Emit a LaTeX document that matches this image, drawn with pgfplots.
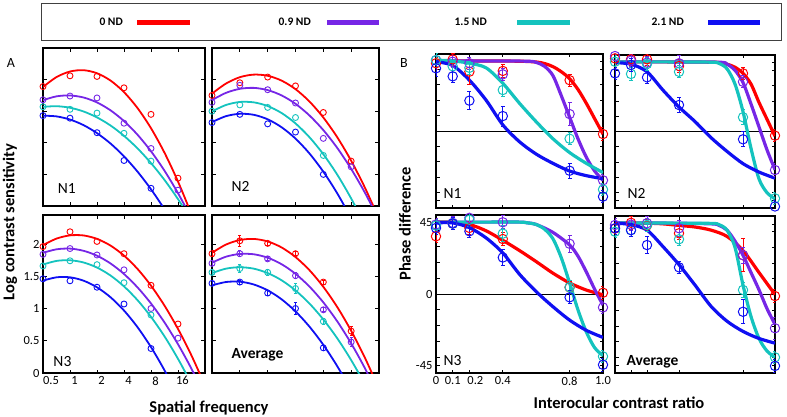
\documentclass[border=0pt]{standalone}
\usepackage{pgfplots}
\pgfplotsset{compat=1.18}
\usepackage{fontspec}
\setmainfont{Carlito}
\definecolor{cR}{RGB}{255,0,0}
\definecolor{cP}{RGB}{118,38,230}
\definecolor{cC}{RGB}{20,195,190}
\definecolor{cB}{RGB}{15,15,242}
\tikzset{plab/.style={anchor=base west, font=\fontsize{15.5}{18}\selectfont}}
\pgfplotsset{
  common/.style={scale only axis, anchor=south west,
    axis line style={line width=1.1pt}, tick style={black,line width=0.7pt},
    major tick length=3.5pt, minor tick length=3.5pt,
    xticklabels={}, yticklabels={},
    ticklabel style={font=\fontsize{12.5}{14}\selectfont},
    /pgf/number format/assume math mode=true},
  Abase/.style={common, xmin=-1, xmax=5, ymin=0,
    xtick={-1,0,1,2,3,4}, ytick={0,0.5,1,1.5,2}},
  Bbase/.style={common, xmin=0, xmax=1, ymin=-50, ymax=50,
    xtick={0,0.1,0.2,0.4,0.8,1}, ytick={-45,0,45},
    minor ytick={-40,-30,-20,-10,10,20,30,40}},
  Acurve/.style={line width=1.8pt, smooth, no markers},
  Apts/.style={only marks, mark=o, mark size=3pt, mark options={line width=0.9pt},
    error bars/y dir=both, error bars/y explicit,
    error bars/error bar style={line width=0.9pt},
    error bars/error mark options={rotate=90, mark size=1.6pt, line width=0.9pt}},
  Bcurve/.style={line width=3.2pt, smooth, no markers},
  Bpts/.style={only marks, mark=o, mark size=4.7pt, mark options={line width=1pt},
    error bars/y dir=both, error bars/y explicit,
    error bars/error bar style={line width=1pt},
    error bars/error mark options={rotate=90, mark size=2pt, line width=1pt}},
  zero/.style={black, line width=0.9pt, no markers},
}
\begin{document}
\begin{tikzpicture}
\path[use as bounding box] (0,0) rectangle (787pt,-417pt);
% legend box
\draw[line width=0.9pt, black!75] (41pt,-3pt) rectangle (781pt,-40pt);
\begin{scope}[every node/.style={anchor=east, font=\bfseries\fontsize{11.5}{13}\selectfont, inner sep=0pt}]
\node at (123pt,-22pt) {0 ND};
\node at (311pt,-22pt) {0.9 ND};
\node at (487pt,-22pt) {1.5 ND};
\node at (684pt,-22pt) {2.1 ND};
\end{scope}
\draw[cR, line width=4.7pt] (137pt,-22.5pt) -- (190pt,-22.5pt);
\draw[cP, line width=4.7pt] (327pt,-22.5pt) -- (379pt,-22.5pt);
\draw[cC, line width=4.7pt] (517pt,-22.5pt) -- (570pt,-22.5pt);
\draw[cB, line width=4.7pt] (708pt,-22.5pt) -- (760pt,-22.5pt);

\node[font=\fontsize{14}{16}\selectfont] at (11pt,-63pt) {A};
\node[font=\fontsize{14}{16}\selectfont] at (404pt,-63pt) {B};
\node[rotate=90, font=\bfseries\fontsize{16.5}{19}\selectfont] at (10pt,-222pt) {Log contrast sensitivity};
\node[font=\bfseries\fontsize{16.5}{19}\selectfont] at (209pt,-408pt) {Spatial frequency};
\node[rotate=90, font=\bfseries\fontsize{16.5}{19}\selectfont] at (405pt,-224pt) {Phase difference};
\node[font=\bfseries\fontsize{16.5}{19}\selectfont] at (619pt,-403pt) {Interocular contrast ratio};

% ---------------- A N1
\begin{axis}[Abase, at={(43pt,-206pt)}, width=162pt, height=158pt, ymax=2.5]
\addplot[cR, Acurve] coordinates {(-1,1.883)(-0.5,2.040)(0,2.128)(0.5,2.149)(1,2.101)(1.5,1.985)(2,1.802)(2.5,1.550)(3,1.231)(3.5,0.843)(4,0.387)(4.5,-0.136)(5,-0.728)};
\addplot[cP, Acurve] coordinates {(-1,1.675)(-0.5,1.735)(0,1.749)(0.5,1.717)(1,1.639)(1.5,1.514)(2,1.344)(2.5,1.128)(3,0.866)(3.5,0.558)(4,0.203)(4.5,-0.197)(5,-0.643)};
\addplot[cC, Acurve] coordinates {(-1,1.569)(-0.5,1.579)(0,1.555)(0.5,1.496)(1,1.402)(1.5,1.274)(2,1.110)(2.5,0.912)(3,0.679)(3.5,0.412)(4,0.109)(4.5,-0.228)(5,-0.6)};
\addplot[cB, Acurve] coordinates {(-1,1.429)(-0.5,1.418)(0,1.368)(0.5,1.280)(1,1.153)(1.5,0.989)(2,0.786)(2.5,0.544)(3,0.265)(3.5,-0.053)(4,-0.409)(4.5,-0.804)};
\addplot[cR, Apts] coordinates {(-1,1.89)(0,2.06)(1,2.05)(2,1.87)(3,1.45)(4,0.44)};
\addplot[cP, Apts] coordinates {(-1,1.68)(0,1.74)(1,1.71)(2,1.31)(3,0.91)(4,0.25)};
\addplot[cC, Apts] coordinates {(-1,1.57)(0,1.53)(1,1.47)(2,1.15)(3,0.71)};
\addplot[cB, Apts] coordinates {(-1,1.43)(0,1.39)(1,1.16)(2,0.72)(3,0.28)};
\node[plab] at (axis description cs:0.07,0.08) {N1};
\end{axis}

% ---------------- A N2
\begin{axis}[Abase, at={(212pt,-206pt)}, width=167pt, height=158pt, ymax=2.5]
\addplot[cR, Acurve] coordinates {(-1,1.778)(-0.5,1.937)(0,2.038)(0.5,2.079)(1,2.061)(1.5,1.984)(2,1.849)(2.5,1.654)(3,1.400)(3.5,1.088)(4,0.716)(4.5,0.285)(5,-0.204)};
\addplot[cP, Acurve] coordinates {(-1,1.676)(-0.5,1.790)(0,1.854)(0.5,1.869)(1,1.834)(1.5,1.750)(2,1.617)(2.5,1.433)(3,1.201)(3.5,0.919)(4,0.587)(4.5,0.206)(5,-0.225)};
\addplot[cC, Acurve] coordinates {(-1,1.497)(-0.5,1.598)(0,1.646)(0.5,1.640)(1,1.582)(1.5,1.471)(2,1.307)(2.5,1.089)(3,0.819)(3.5,0.496)(4,0.119)(4.5,-0.310)(5,-0.792)};
\addplot[cB, Acurve] coordinates {(-1,1.328)(-0.5,1.421)(0,1.459)(0.5,1.443)(1,1.372)(1.5,1.246)(2,1.067)(2.5,0.832)(3,0.543)(3.5,0.200)(4,-0.198)(4.5,-0.65)};
\addplot[cR, Apts] coordinates {(-1,1.75)(0,1.95)(1,2.04)(2,1.90)(3,1.48)(4,0.71)};
\addplot[cP, Apts] coordinates {(-1,1.64)(0,1.91)(1,1.84)(2,1.63)(3,1.07)(4,0.62)};
\addplot[cC, Apts] coordinates {(-1,1.50)(0,1.60)(1,1.56)(2,1.40)(3,0.80)};
\addplot[cB, Apts] coordinates {(-1,1.32)(0,1.45)(1,1.30)(2,1.17)(3,0.50)};
\node[plab] at (axis description cs:0.096,0.09) {N2};
\end{axis}

% ---------------- A N3
\begin{axis}[Abase, at={(43pt,-373pt)}, width=162pt, height=158pt, ymax=2.45,
  xticklabels={\hspace*{16pt}0.5,\hspace*{9pt}1,\hspace*{9pt}2,\hspace*{9pt}4,\hspace*{9pt}8,\hspace*{9pt}16},
  yticklabels={0,0.5,1,1.5,2}]
\addplot[cR, Acurve] coordinates {(-1,1.982)(-0.5,2.084)(0,2.134)(0.5,2.133)(1,2.080)(1.5,1.976)(2,1.821)(2.5,1.614)(3,1.355)(3.5,1.045)(4,0.684)(4.5,0.271)(5,-0.194)};
\addplot[cP, Acurve] coordinates {(-1,1.864)(-0.5,1.918)(0,1.929)(0.5,1.895)(1,1.819)(1.5,1.699)(2,1.535)(2.5,1.328)(3,1.078)(3.5,0.784)(4,0.446)(4.5,0.065)(5,-0.36)};
\addplot[cC, Acurve] coordinates {(-1,1.682)(-0.5,1.738)(0,1.748)(0.5,1.714)(1,1.635)(1.5,1.512)(2,1.343)(2.5,1.130)(3,0.871)(3.5,0.568)(4,0.220)(4.5,-0.173)(5,-0.611)};
\addplot[cB, Acurve] coordinates {(-1,1.432)(-0.5,1.484)(0,1.484)(0.5,1.432)(1,1.329)(1.5,1.175)(2,0.969)(2.5,0.711)(3,0.402)(3.5,0.042)(4,-0.37)(4.5,-0.834)};
\addplot[cR, Apts] coordinates {(-1,1.96)(0,2.19)(1,2.04)(2,1.85)(3,1.36)(4,0.76)};
\addplot[cP, Apts] coordinates {(-1,1.84)(0,1.93)(1,1.83)(2,1.60)(3,1.00)(4,0.54)};
\addplot[cC, Apts] coordinates {(-1,1.66)(0,1.74)(1,1.68)(2,1.40)(3,0.90)};
\addplot[cB, Apts] coordinates {(-1,1.46)(0,1.43)(1,1.33)(2,1.07)(3,0.38)};
\node[plab] at (axis description cs:0.043,0.04) {N3};
\end{axis}

% ---------------- A Average
\begin{axis}[Abase, at={(212pt,-373pt)}, width=167pt, height=158pt, ymax=2.45]
\addplot[cR, Acurve] coordinates {(-1,1.864)(-0.5,1.991)(0,2.062)(0.5,2.079)(1,2.040)(1.5,1.947)(2,1.798)(2.5,1.595)(3,1.336)(3.5,1.023)(4,0.654)(4.5,0.231)(5,-0.248)};
\addplot[cP, Acurve] coordinates {(-1,1.711)(-0.5,1.803)(0,1.846)(0.5,1.841)(1,1.788)(1.5,1.687)(2,1.538)(2.5,1.341)(3,1.095)(3.5,0.801)(4,0.459)(4.5,0.069)(5,-0.369)};
\addplot[cC, Acurve] coordinates {(-1,1.55)(-0.5,1.618)(0,1.64)(0.5,1.618)(1,1.55)(1.5,1.438)(2,1.28)(2.5,1.078)(3,0.83)(3.5,0.538)(4,0.2)(4.5,-0.183)(5,-0.61)};
\addplot[cB, Acurve] coordinates {(-1,1.359)(-0.5,1.411)(0,1.416)(0.5,1.373)(1,1.282)(1.5,1.143)(2,0.955)(2.5,0.720)(3,0.437)(3.5,0.106)(4,-0.273)(4.5,-0.701)};
\addplot[cR, Apts] coordinates {(-1,1.85) +- (0,0.05) (0,2.05) +- (0,0.08) (1,2.01) +- (0,0.03) (2,1.85) +- (0,0.03) (3,1.41) +- (0,0.03) (4,0.65) +- (0,0.07)};
\addplot[cP, Apts] coordinates {(-1,1.70) +- (0,0.03) (0,1.85) +- (0,0.05) (1,1.77) +- (0,0.03) (2,1.51) +- (0,0.05) (3,0.98) +- (0,0.03) (4,0.48) +- (0,0.07)};
\addplot[cC, Apts] coordinates {(-1,1.56) +- (0,0.03) (0,1.62) +- (0,0.06) (1,1.56) +- (0,0.05) (2,1.31) +- (0,0.08) (3,0.80) +- (0,0.04)};
\addplot[cB, Apts] coordinates {(-1,1.39) +- (0,0.03) (0,1.41) +- (0,0.03) (1,1.24) +- (0,0.04) (2,1.00) +- (0,0.09) (3,0.39) +- (0,0.04)};
\node[plab, font=\bfseries\fontsize{15.5}{18}\selectfont] at (axis description cs:0.096,0.093) {Average};
\end{axis}

% ---------------- B N1
\begin{axis}[Bbase, at={(436pt,-208pt)}, width=167pt, height=154pt]
\addplot[zero] coordinates {(0,0)(1,0)};
\addplot[cR, Bcurve] coordinates {(0,45.5)(0.3,45.5)(0.5,45.3)(0.6,44.8)(0.65,43.8)(0.7,41.8)(0.75,38.5)(0.8,34)(0.85,27)(0.9,18)(0.95,8)(1.0,-2)};
\addplot[cP, Bcurve] coordinates {(0,45.5)(0.3,45.5)(0.55,45.3)(0.6,44.5)(0.65,42)(0.7,36)(0.75,23)(0.8,9)(0.85,-5)(0.9,-17)(0.95,-26)(1.0,-32)};
\addplot[cC, Bcurve] coordinates {(0,46)(0.1,45.5)(0.2,44)(0.3,41)(0.4,31)(0.5,18)(0.6,6)(0.7,-5)(0.8,-14)(0.9,-21)(1.0,-27)};
\addplot[cB, Bcurve] coordinates {(0,45)(0.1,42.5)(0.2,33)(0.3,20)(0.4,4)(0.5,-7)(0.6,-15)(0.7,-21)(0.8,-26)(0.9,-29)(1.0,-31)};
\addplot[cR, Bpts] coordinates {(0,44) +- (0,4) (0.1,46.5) +- (0,4) (0.2,38.5) +- (0,8) (0.4,39) +- (0,4) (0.8,33) +- (0,4) (1.0,-2) +- (0,4)};
\addplot[cP, Bpts] coordinates {(0,46) +- (0,4) (0.1,45) +- (0,4) (0.2,44) +- (0,4) (0.4,36.8) +- (0,4) (0.8,11) +- (0,7.5) (1.0,-32) +- (0,4)};
\addplot[cC, Bpts] coordinates {(0,46) +- (0,4) (0.1,42) +- (0,4) (0.2,41) +- (0,4) (0.4,26.6) +- (0,4) (0.8,-5) +- (0,4) (1.0,-38) +- (0,4)};
\addplot[cB, Bpts] coordinates {(0,40.7) +- (0,5) (0.1,35.5) +- (0,4) (0.2,19.7) +- (0,6) (0.4,9.7) +- (0,6.5) (0.8,-25.8) +- (0,5) (1.0,-42.6) +- (0,4)};
\node[plab] at (axis description cs:0.024,0.063) {N1};
\end{axis}

% ---------------- B N2
\begin{axis}[Bbase, at={(615pt,-208pt)}, width=160pt, height=153pt]
\addplot[zero] coordinates {(0,0)(1,0)};
\addplot[cR, Bcurve] coordinates {(0,45.5)(0.3,45.5)(0.6,45.3)(0.65,45)(0.7,44)(0.75,42)(0.8,38)(0.85,31)(0.9,19)(0.95,8)(1.0,-3)};
\addplot[cP, Bcurve] coordinates {(0,45.5)(0.3,45.5)(0.65,45.3)(0.7,44)(0.75,40)(0.8,32)(0.85,18)(0.9,3)(0.95,-12)(1.0,-25)};
\addplot[cC, Bcurve] coordinates {(0,45.5)(0.3,45.5)(0.6,45.3)(0.65,44.5)(0.7,41)(0.75,31)(0.8,13)(0.85,-11)(0.9,-31)(0.95,-40)(1.0,-44)};
\addplot[cB, Bcurve] coordinates {(0,45)(0.1,44)(0.2,39)(0.3,27)(0.4,16)(0.5,6.5)(0.6,-4)(0.7,-13)(0.8,-21)(0.9,-26.5)(1.0,-30.5)};
\addplot[cR, Bpts] coordinates {(0,47.8) +- (0,4) (0.1,47.2) +- (0,4) (0.2,47.2) +- (0,4) (0.4,42.8) +- (0,4) (0.8,38) +- (0,4) (1.0,-2.7) +- (0,4)};
\addplot[cP, Bpts] coordinates {(0,49.3) +- (0,4) (0.1,46.3) +- (0,4) (0.2,45) +- (0,4) (0.4,44.6) +- (0,5) (0.8,32.5) +- (0,4) (1.0,-25.2) +- (0,4)};
\addplot[cC, Bpts] coordinates {(0,45.6) +- (0,4) (0.1,37.6) +- (0,4) (0.2,44.1) +- (0,4) (0.4,39) +- (0,4) (0.8,9.3) +- (0,5) (1.0,-43.7) +- (0,4)};
\addplot[cB, Bpts] coordinates {(0,38) +- (0,4) (0.1,43.5) +- (0,4) (0.2,35.4) +- (0,4) (0.4,17.3) +- (0,5) (0.8,-5.1) +- (0,5) (1.0,-49) +- (0,4)};
\node[plab] at (axis description cs:0.056,0.063) {N2};
\end{axis}

% ---------------- B N3
\begin{axis}[Bbase, at={(436pt,-373pt)}, width=167pt, height=158pt,
  xticklabels={0,0.1,\hspace*{12pt}0.2,0.4,0.8,1.0}, yticklabels={-45,0,45}]
\addplot[zero] coordinates {(0,0)(1,0)};
\addplot[cR, Bcurve] coordinates {(0,45.5)(0.1,45.5)(0.2,44)(0.3,40)(0.4,34)(0.5,27.5)(0.6,20.5)(0.7,13.2)(0.8,7)(0.9,2.5)(1.0,-0.5)};
\addplot[cP, Bcurve] coordinates {(0,45.5)(0.3,45.5)(0.5,45.5)(0.55,45)(0.6,44)(0.7,39)(0.8,31)(0.85,24)(0.9,14)(0.95,3)(1.0,-7)};
\addplot[cC, Bcurve] coordinates {(0,45.5)(0.3,45.5)(0.5,45.5)(0.55,45)(0.6,44)(0.65,41)(0.7,35)(0.75,23)(0.8,7)(0.85,-10)(0.9,-24)(0.95,-34)(1.0,-39)};
\addplot[cB, Bcurve] coordinates {(0,45)(0.1,45)(0.2,42)(0.3,35.5)(0.4,26)(0.5,12.5)(0.6,1.5)(0.7,-8)(0.8,-16.5)(0.9,-23)(1.0,-27.5)};
\addplot[cR, Bpts] coordinates {(0,36.5) +- (0,4) (0.1,44.6) +- (0,4) (0.2,41.8) +- (0,4) (0.4,34.8) +- (0,4) (0.8,4.2) +- (0,4) (1.0,0.8) +- (0,4)};
\addplot[cP, Bpts] coordinates {(0,44) +- (0,4) (0.1,45) +- (0,4) (0.2,48.2) +- (0,4) (0.4,45.4) +- (0,4) (0.8,31.8) +- (0,5.5) (1.0,-8.5) +- (0,4)};
\addplot[cC, Bpts] coordinates {(0,43.3) +- (0,4) (0.1,44.6) +- (0,4) (0.2,47) +- (0,4) (0.4,38.2) +- (0,5) (0.8,4.3) +- (0,4) (1.0,-39.5) +- (0,4)};
\addplot[cB, Bpts] coordinates {(0,41.8) +- (0,4) (0.1,44.6) +- (0,4) (0.2,39.7) +- (0,4) (0.4,23.1) +- (0,5) (0.8,-2.1) +- (0,4) (1.0,-44.8) +- (0,4)};
\node[plab] at (axis description cs:0.024,0.05) {N3};
\end{axis}

% ---------------- B Average
\begin{axis}[Bbase, at={(615pt,-373pt)}, width=160pt, height=157pt]
\addplot[zero] coordinates {(0,0)(1,0)};
\addplot[cR, Bcurve] coordinates {(0,45.5)(0.2,45.4)(0.3,45)(0.4,44)(0.5,43)(0.6,41)(0.7,37)(0.8,28)(0.9,14)(1.0,0)};
\addplot[cP, Bcurve] coordinates {(0,45.5)(0.3,45.5)(0.6,45)(0.65,44)(0.7,41)(0.75,34)(0.8,25)(0.85,14)(0.9,3)(0.95,-9)(1.0,-19)};
\addplot[cC, Bcurve] coordinates {(0,45.5)(0.3,45.5)(0.6,45.3)(0.65,44.5)(0.7,41)(0.75,30)(0.8,6)(0.85,-14)(0.9,-28)(0.95,-36)(1.0,-40)};
\addplot[cB, Bcurve] coordinates {(0,45.5)(0.1,44.5)(0.2,41)(0.3,30.5)(0.4,19)(0.5,6)(0.6,-7.5)(0.7,-17)(0.8,-23.5)(0.9,-28)(1.0,-31)};
\addplot[cR, Bpts] coordinates {(0,42) +- (0,4) (0.1,45.7) +- (0,4) (0.2,44) +- (0,4) (0.4,39) +- (0,4) (0.8,25) +- (0,10.5) (1.0,-1) +- (0,4)};
\addplot[cP, Bpts] coordinates {(0,44.3) +- (0,4) (0.1,44.5) +- (0,4) (0.2,45.4) +- (0,4) (0.4,42.2) +- (0,5) (0.8,25) +- (0,5) (1.0,-21.5) +- (0,7)};
\addplot[cC, Bpts] coordinates {(0,40) +- (0,4) (0.1,41) +- (0,4) (0.2,44.3) +- (0,4) (0.4,35.2) +- (0,4) (0.8,2.9) +- (0,4.5) (1.0,-40) +- (0,4)};
\addplot[cB, Bpts] coordinates {(0,42.2) +- (0,4) (0.1,41) +- (0,4) (0.2,31.5) +- (0,5.3) (0.4,17.3) +- (0,4) (0.8,-11) +- (0,7.5) (1.0,-45.5) +- (0,4)};
\node[plab, font=\bfseries\fontsize{15.5}{18}\selectfont] at (axis description cs:0.05,0.05) {Average};
\end{axis}
\end{tikzpicture}
\end{document}
